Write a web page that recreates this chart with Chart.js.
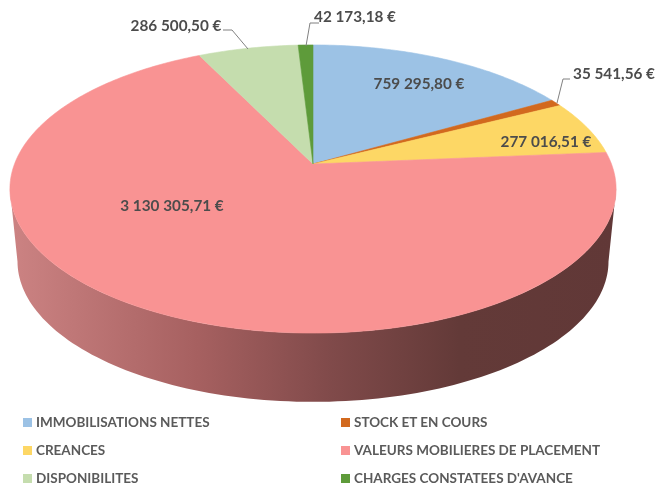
<!DOCTYPE html>
<html lang="fr">
<head>
<meta charset="utf-8">
<title>Actif</title>
<script src="https://cdn.jsdelivr.net/npm/chart.js@4/dist/chart.umd.min.js"></script>
<style>
  html, body { margin: 0; padding: 0; background: #fff; }
  #wrap { position: relative; width: 659px; height: 485px; overflow: hidden; filter: blur(0.45px); }
  #graphe { position: absolute; left: 0; top: 0; }
  .leg { position: absolute; font: bold 13.5px Lato, sans-serif; color: #5a5a5a; white-space: nowrap; line-height: 16px; }
  .leg i { position: absolute; left: -13px; top: 4px; width: 9px; height: 9px; }
</style>
</head>
<body>
<div id="wrap">
  <canvas id="graphe" width="659" height="485"></canvas>
</div>
<script>
const categories = ['IMMOBILISATIONS NETTES', 'STOCK ET EN COURS', 'CREANCES', 'VALEURS MOBILIERES DE PLACEMENT', 'DISPONIBILITES', "CHARGES CONSTATEES D'AVANCE"];
const valeurs = [759295.80, 35541.56, 277016.51, 3130305.71, 286500.50, 42173.18];
const couleurs = ['#9cc2e5', '#d2691e', '#fdd765', '#f99393', '#c5ddae', '#5e9b3a'];

// position du texte de chaque valeur, et trait de rappel quand il y en a un
const posLabels = [[419, 84], [614, 74], [546, 142], [172, 206], [176, 26], [355, 17]];
const rappels = [null, [[570, 79], [563, 79], [557, 103]], null, null, [[223, 30], [232, 30], [248, 49]], [[319, 23], [310, 23], [306, 46]]];

// perspective du disque : ecrasement horizontal/vertical et fuite vers le haut
const ECH_X = 1.82, ECH_Y = 0.852, FUITE = 0.1736;
const EPAISSEUR = 73, RETRAIT = 0.975;

function projeter(el, a) {
  const u = Math.cos(a), v = -Math.sin(a);
  const w = 1 + FUITE * v;
  return [el.x + ECH_X * el.outerRadius * u / w, el.y - ECH_Y * el.outerRadius * v / w];
}

function formatEuro(v) {
  const p = v.toFixed(2).split('.');
  return p[0].replace(/\B(?=(\d{3})+$)/g, ' ') + ',' + p[1] + ' €';
}

// tranche vue de face (on remplace le dessin plat de l'arc)
function dessinerFlanc(el, ctx) {
  const amin = Math.asin(FUITE), amax = Math.PI - amin;
  const tours = [0, 2 * Math.PI, -2 * Math.PI];
  for (const t of tours) {
    const d = Math.max(el.startAngle + t, amin), f = Math.min(el.endAngle + t, amax);
    if (f <= d) continue;
    const haut = [], bas = [];
    for (let i = 0; i <= 120; i++) {
      const p = projeter(el, d + (f - d) * i / 120);
      haut.push(p);
      bas.push([el.x + (p[0] - el.x) * RETRAIT, el.y + (p[1] - el.y) * RETRAIT + EPAISSEUR]);
    }
    const g = ctx.createLinearGradient(el.x - 303, 0, el.x + 304, 0);
    g.addColorStop(0, '#cc8383');
    g.addColorStop(0.31, '#a66060');
    g.addColorStop(0.53, '#804a4a');
    g.addColorStop(0.74, '#633a38');
    g.addColorStop(1, '#613837');
    ctx.fillStyle = g;
    ctx.beginPath();
    haut.forEach((p, i) => i ? ctx.lineTo(p[0], p[1]) : ctx.moveTo(p[0], p[1]));
    bas.reverse().forEach(p => ctx.lineTo(p[0], p[1]));
    ctx.closePath();
    ctx.fill();
  }
}

Chart.ArcElement.prototype.draw = function (ctx) {
  const col = this.options.backgroundColor;
  ctx.save();
  dessinerFlanc(this, ctx);
  ctx.fillStyle = col;
  ctx.strokeStyle = col;
  ctx.lineWidth = 0.6;
  ctx.beginPath();
  ctx.moveTo(this.x, this.y);
  const n = Math.max(2, Math.ceil((this.endAngle - this.startAngle) * 60));
  for (let i = 0; i <= n; i++) {
    const p = projeter(this, this.startAngle + (this.endAngle - this.startAngle) * i / n);
    ctx.lineTo(p[0], p[1]);
  }
  ctx.closePath();
  ctx.fill();
  ctx.stroke();
  ctx.restore();
};

const labelsValeurs = {
  id: 'labelsValeurs',
  afterDatasetsDraw(chart) {
    const ctx = chart.ctx;
    ctx.save();
    ctx.strokeStyle = '#808080';
    ctx.lineWidth = 1;
    rappels.forEach(r => {
      if (!r) return;
      ctx.beginPath();
      r.forEach((p, i) => i ? ctx.lineTo(p[0], p[1]) : ctx.moveTo(p[0], p[1]));
      ctx.stroke();
    });
    ctx.font = 'bold 15.3px Lato, sans-serif';
    ctx.fillStyle = '#4c4c4c';
    ctx.textAlign = 'center';
    ctx.textBaseline = 'middle';
    valeurs.forEach((v, i) => ctx.fillText(formatEuro(v), posLabels[i][0], posLabels[i][1]));
    ctx.restore();
  }
};

new Chart(document.getElementById('graphe'), {
  type: 'pie',
  data: {
    labels: categories,
    datasets: [{ data: valeurs, backgroundColor: couleurs, borderWidth: 0 }]
  },
  options: {
    responsive: false,
    animation: false,
    layout: { padding: { left: 0, right: 33, top: 0, bottom: 157 } },
    plugins: { legend: { display: false }, tooltip: { enabled: false } }
  },
  plugins: [labelsValeurs]
});

// legende sur deux colonnes, dans l'ordre des categories
const wrap = document.getElementById('wrap');
categories.forEach((c, i) => {
  const d = document.createElement('div');
  d.className = 'leg';
  d.style.left = (i % 2 ? 354 : 36) + 'px';
  d.style.top = (414 + 28 * Math.floor(i / 2)) + 'px';
  d.textContent = c;
  const m = document.createElement('i');
  m.style.background = couleurs[i];
  d.appendChild(m);
  wrap.appendChild(d);
});
</script>
</body>
</html>
